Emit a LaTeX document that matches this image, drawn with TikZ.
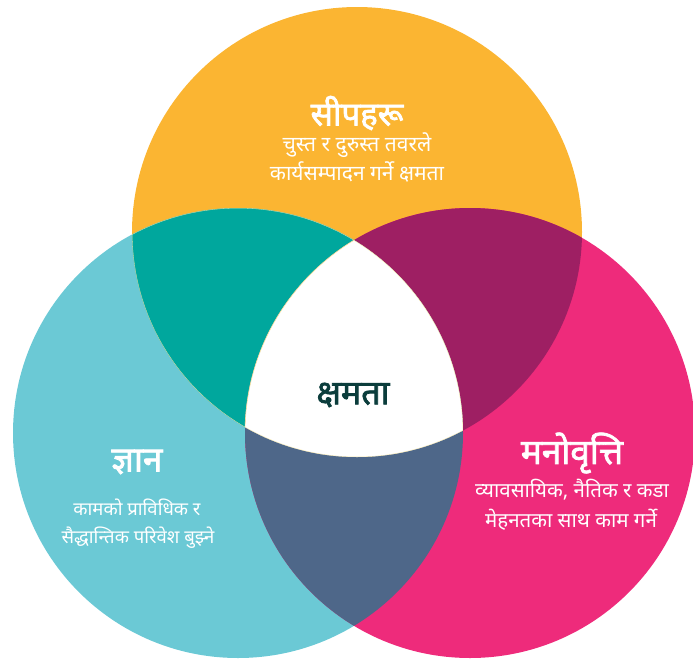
\documentclass[tikz,border=0pt]{standalone}
\usepackage{fontspec}
\newfontfamily\deva[Script=Devanagari]{Noto Sans}
\newfontfamily\devab[Script=Devanagari,FakeBold=2.2]{Noto Sans}
\definecolor{corange}{HTML}{FBB532}
\definecolor{cblue}{HTML}{6BC9D5}
\definecolor{cpink}{HTML}{EE2B7B}
\definecolor{cteal}{HTML}{00A79D}
\definecolor{cpurple}{HTML}{9E1F63}
\definecolor{cslate}{HTML}{4E6789}
\definecolor{cdark}{HTML}{0B3D3C}
\definecolor{cline}{HTML}{F5E3A0}
\tikzset{
  title/.style={text=white,font=\devab\fontsize{#1}{#1}\selectfont,inner sep=0pt,anchor=center},
  sub/.style={text=white,font=\deva\fontsize{#1}{#1}\selectfont,inner sep=0pt,anchor=center},
  core/.style={text=cdark,font=\devab\fontsize{34}{34}\selectfont,inner sep=0pt,anchor=center}
}
\begin{document}
\begin{tikzpicture}[x=1pt,y=-1pt]
\useasboundingbox (0,0) rectangle (693,659);
\clip (0,0) rectangle (693,659);
\coordinate (T) at (357,232);
\coordinate (L) at (238,433);
\coordinate (R) at (470,433);
\fill[corange] (T) circle (225pt);
\fill[cblue] (L) circle (225pt);
\fill[cpink] (R) circle (225pt);
\begin{scope}
  \clip (T) circle (225pt);
  \fill[cteal] (L) circle (225pt);
  \fill[cpurple] (R) circle (225pt);
\end{scope}
\begin{scope}
  \clip (L) circle (225pt);
  \fill[cslate] (R) circle (225pt);
\end{scope}
\begin{scope}
  \clip (T) circle (225pt);
  \clip (L) circle (225pt);
  \fill[white] (R) circle (225pt);
  \draw[cline,line width=0.6pt] (R) circle (225pt) (L) circle (225pt) (T) circle (225pt);
\end{scope}
\node[title=33] (t1) at (357,113) {सीपहरू};
\node[sub=21] (t2) at (357,145) {चुस्त र दुरुस्त तवरले};
\node[sub=21] (t3) at (357,172) {कार्यसम्पादन गर्ने क्षमता};
\node[title=35] (l1) at (137,462) {ज्ञान};
\node[sub=18.5] (l2) at (137,507) {कामको प्राविधिक र};
\node[sub=18.5] (l3) at (138,538) {सैद्धान्तिक परिवेश बुझ्ने};
\node[title=35] (r1) at (572,453) {मनोवृत्ति};
\node[sub=20.5] (r2) at (572,490) {व्यावसायिक, नैतिक र कडा};
\node[sub=20.5] (r3) at (571,520) {मेहनतका साथ काम गर्ने};
\node[core] (c1) at (353,395) {क्षमता};
\end{tikzpicture}
\end{document}
